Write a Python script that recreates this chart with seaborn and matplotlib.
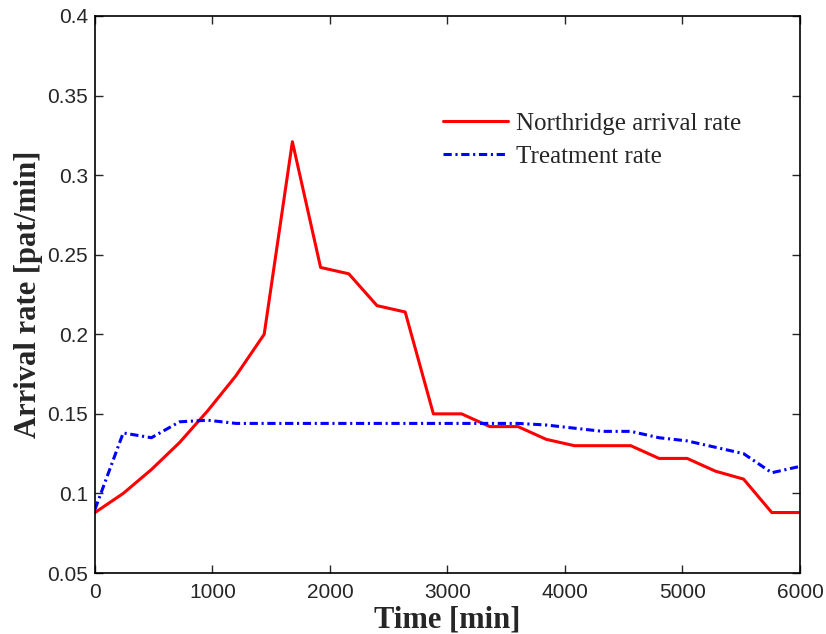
import matplotlib
matplotlib.use("Agg")
import matplotlib.pyplot as plt
import pandas as pd
import seaborn as sns

# time grid (min)
time_min = [0, 240, 480, 720, 960, 1200, 1440, 1680, 1920, 2160, 2400, 2640, 2880,
            3120, 3360, 3600, 3840, 4080, 4320, 4560, 4800, 5040, 5280, 5520, 5760, 6000]

arrival_rate = [0.088, 0.100, 0.115, 0.132, 0.152, 0.174, 0.200, 0.321, 0.242, 0.238,
                0.218, 0.214, 0.150, 0.150, 0.142, 0.142, 0.134, 0.130, 0.130, 0.130,
                0.122, 0.122, 0.114, 0.109, 0.088, 0.088]

treatment_rate = [0.090, 0.138, 0.135, 0.145, 0.146, 0.144, 0.144, 0.144, 0.144, 0.144,
                  0.144, 0.144, 0.144, 0.144, 0.144, 0.144, 0.143, 0.141, 0.139, 0.139,
                  0.135, 0.133, 0.129, 0.125, 0.113, 0.117]

sns.set_style("ticks")
plt.rcParams["font.family"] = ["Liberation Sans", "DejaVu Sans"]

df = pd.DataFrame({"time": time_min, "arrival": arrival_rate, "treatment": treatment_rate})

fig = plt.figure(figsize=(8.26, 6.34), dpi=100)
ax = fig.add_axes([0.115, 0.0962, 0.8535, 0.8786])

dashdot = [2.7, 1.2, 0.7, 1.2]
sns.lineplot(data=df, x="time", y="arrival", ax=ax, color="#ff0000", lw=2.2,
             label="Northridge arrival rate")
sns.lineplot(data=df, x="time", y="treatment", ax=ax, color="#0000ff", lw=2.2,
             label="Treatment rate")
ax.lines[1].set_dashes(dashdot)

ax.set_xlim(0, 6000)
ax.set_ylim(0.05, 0.4)
ax.set_xticks(range(0, 6001, 1000))
ax.set_yticks([0.05, 0.1, 0.15, 0.2, 0.25, 0.3, 0.35, 0.4])
ax.set_yticklabels(["0.05", "0.1", "0.15", "0.2", "0.25", "0.3", "0.35", "0.4"])

for s in ax.spines.values():
    s.set_linewidth(1.2)
    s.set_color("black")
ax.tick_params(direction="in", top=True, right=True, length=5.5, width=1.0,
               labelsize=15, pad=7)
ax.tick_params(axis="y", pad=5)

ax.set_xlabel("Time [min]", family="Liberation Serif", fontweight="bold", fontsize=22,
              labelpad=3)
ax.set_ylabel("Arrival rate [pat/min]", family="Liberation Serif", fontweight="bold",
              fontsize=22, labelpad=3)

leg = ax.legend(loc="upper left", bbox_to_anchor=(0.462, 0.868), frameon=False,
                prop={"family": "Liberation Serif", "size": 18},
                handlelength=2.6, handletextpad=0.3, labelspacing=0.42)
leg.get_lines()[1].set_dashes(dashdot)

fig.savefig("out.png", dpi=100)
